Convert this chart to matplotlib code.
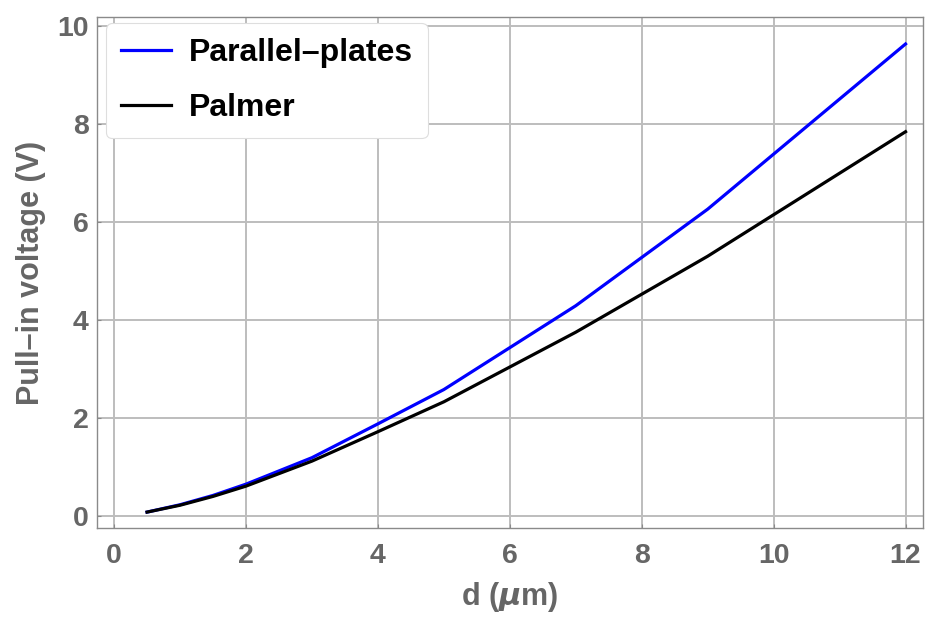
import matplotlib
matplotlib.use("Agg")
import matplotlib.pyplot as plt

# gap d in micrometres and pull-in voltage for the two models
d_um = [0.5, 1, 1.5, 2, 3, 4, 5, 7, 9, 12]
v_parallel = [0.08, 0.23, 0.42, 0.65, 1.19, 1.88, 2.58, 4.29, 6.26, 9.63]
v_palmer = [0.08, 0.22, 0.40, 0.61, 1.12, 1.72, 2.33, 3.75, 5.30, 7.84]

xticks = [0, 2, 4, 6, 8, 10, 12]
yticks = [0, 2, 4, 6, 8, 10]

plt.rcParams["font.family"] = ["Liberation Sans", "DejaVu Sans"]
plt.rcParams["font.weight"] = "bold"

fig = plt.figure(figsize=(9.32, 6.26), dpi=100)
ax = fig.add_axes([0.104, 0.1565, 0.886, 0.8163])

ax.plot(d_um, v_parallel, color="#0000ff", lw=2.3, label="Parallel–plates", zorder=3)
ax.plot(d_um, v_palmer, color="black", lw=2.3, label="Palmer", zorder=3)

ax.set_xlim(-0.26, 12.26)
ax.set_ylim(-0.245, 10.18)
ax.set_xticks(xticks)
ax.set_yticks(yticks)
ax.grid(True, color="#bdbdbd", lw=1.4)
ax.set_axisbelow(True)

for s in ax.spines.values():
    s.set_color("#8a8a8a")
    s.set_linewidth(1.0)
ax.tick_params(direction="in", length=3, color="#8a8a8a", labelsize=20.5,
               labelcolor="#666666")
ax.tick_params(axis="x", pad=11)
ax.tick_params(axis="y", pad=6)

ax.set_xlabel("d ($\\mu$m)", fontsize=22, color="#666666", fontweight="bold", labelpad=8)
ax.set_ylabel("Pull–in voltage (V)", fontsize=22, color="#666666", fontweight="bold", labelpad=8)

leg = ax.legend(loc="upper left", fontsize=23, frameon=True, fancybox=True,
                borderpad=0.48, handlelength=1.55, handletextpad=0.55,
                labelspacing=0.76, borderaxespad=0,
                bbox_to_anchor=(0.011, 0.988))
leg.get_frame().set_edgecolor("#dedede")
leg.get_frame().set_linewidth(0.8)
leg.get_frame().set_alpha(1.0)
for t in leg.get_texts():
    t.set_fontweight("bold")

plt.savefig("out.png", dpi=100)
plt.close()
